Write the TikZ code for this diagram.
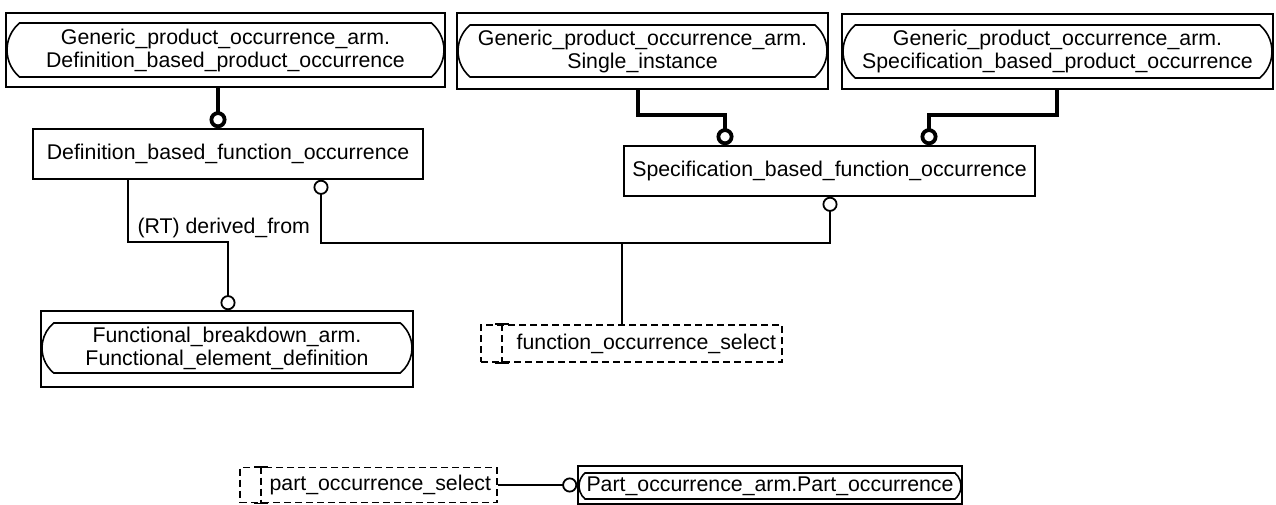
\documentclass[tikz,border=0pt]{standalone}
\usepackage{fontspec}
\setmainfont{Liberation Sans}
\usetikzlibrary{arrows.meta,shapes.misc}

\tikzset{
  extbox/.style={draw, line width=1.6pt, inner sep=0pt},
  pill/.style={draw, line width=1.6pt, rounded rectangle, rounded rectangle arc length=100, inner sep=0pt, align=center},
  entity/.style={draw, line width=1.6pt, inner sep=0pt, minimum height=50pt},
  selbox/.style={draw, line width=1.6pt, dash pattern=on 7pt off 4pt, inner xsep=6pt, inner ysep=0pt, align=right},
  rel/.style={line width=1.6pt},
  opt/.tip={Circle[open, length=15pt, line width=1.8pt, fill=white]},
  optrel/.style={rel, -opt},
  strongrel/.style={line width=4.5pt, -{Circle[open, length=17pt, line width=3.8pt, fill=white]}}
}

\begin{document}
\begin{tikzpicture}[x=1pt, y=-1pt, font=\fontsize{21.3}{23}\selectfont]
\useasboundingbox (0,0) rectangle (1276,505);

\node[extbox, minimum width=439pt, minimum height=74pt] (gpoDef) at (225.5,50) {};
\node[pill, minimum width=437pt, minimum height=54pt] (gpoDefIn) at (gpoDef) {Generic\_product\_occurrence\_arm.\\Definition\_based\_product\_occurrence};

\node[extbox, minimum width=371pt, minimum height=76pt] (gpoSingle) at (642.5,51) {};
\node[pill, minimum width=369pt, minimum height=52pt] (gpoSingleIn) at (gpoSingle) {Generic\_product\_occurrence\_arm.\\Single\_instance};

\node[extbox, minimum width=431pt, minimum height=75pt] (gpoSpec) at (1057.5,51.5) {};
\node[pill, minimum width=429pt, minimum height=53pt] (gpoSpecIn) at (gpoSpec) {Generic\_product\_occurrence\_arm.\\Specification\_based\_product\_occurrence};

\node[entity, minimum width=390pt] (defFunc) at (228,154) {Definition\_based\_function\_occurrence};
\node[entity, minimum width=411pt] (specFunc) at (829.5,171) {Specification\_based\_function\_occurrence};

\node[extbox, minimum width=372pt, minimum height=76pt] (fedDef) at (227,349) {};
\node[pill, minimum width=370pt, minimum height=50pt] (fedDefIn) at (227,348) {Functional\_breakdown\_arm.\\Functional\_element\_definition};

\node[selbox, text width=289pt, minimum height=37pt] (funcSel) at (631.5,343.5) {function\_occurrence\_select};
\node[selbox, text width=245pt, minimum height=35pt] (partSel) at (368.5,485) {part\_occurrence\_select};

\node[extbox, minimum width=384pt, minimum height=38pt] (partOcc) at (770,485) {};
\node[pill, minimum width=382pt, minimum height=26pt] (partOccIn) at (770,486) {Part\_occurrence\_arm.Part\_occurrence};

\foreach \s in {funcSel,partSel} {
  \draw[rel, dash pattern=on 7pt off 4pt] ([xshift=22pt]\s.north west) -- ([xshift=22pt]\s.south west);
  \draw[rel] ([xshift=15pt]\s.north west) -- ([xshift=29pt]\s.north west);
  \draw[rel] ([xshift=15pt]\s.south west) -- ([xshift=29pt]\s.south west);
}

\coordinate (bendSingle) at (725,115);
\coordinate (bendSpec) at (929,115);
\coordinate (bendDerived) at (228,242);
\coordinate (bendSelect) at (830,243);
\coordinate (joinSelect) at (622,243);

\draw[strongrel] (gpoDef.south -| 218,0) -- (defFunc.north -| 218,0);
\draw[strongrel] (gpoSingle.south -| 638,0) |- (bendSingle) -- (specFunc.north -| bendSingle);
\draw[strongrel] (gpoSpec.south -| 1057,0) |- (bendSpec) -- (specFunc.north -| bendSpec);

\draw[optrel] (defFunc.south -| 128,0) |- (bendDerived) -- (fedDef.north -| bendDerived);
\node[anchor=west] (derivedLbl) at (134,228) {(RT) derived\_from};

\draw[rel, opt-opt] (defFunc.south -| 321,0) |- (bendSelect) -- (specFunc.south -| bendSelect);
\draw[rel] (joinSelect) -- (funcSel.north -| joinSelect);

\draw[optrel] (partSel.east) -- (partOcc.west);
\end{tikzpicture}
\end{document}
